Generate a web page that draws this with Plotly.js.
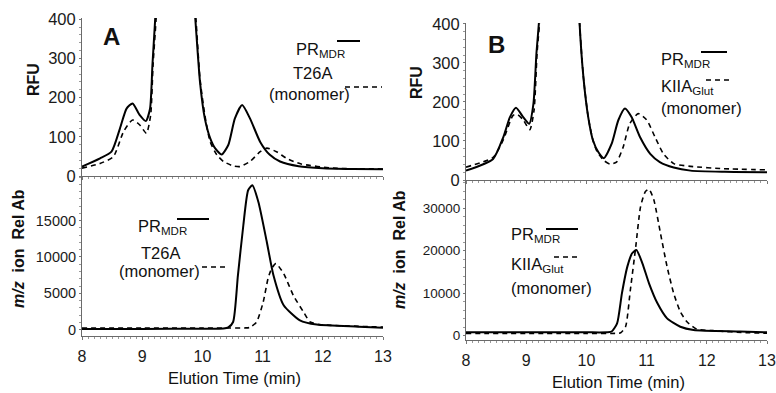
<!DOCTYPE html>
<html>
<head>
<meta charset="utf-8">
<script src="https://cdn.plot.ly/plotly-3.0.1.min.js"></script>
<style>html,body{margin:0;padding:0;background:#fff;}#chart{width:776px;height:393px;}</style>
</head>
<body>
<div id="chart"></div>
<script>
// ---- Panel A, fluorescence (RFU) ----
const tA_rfu_pr = [8.0, 8.3, 8.49, 8.63, 8.74, 8.84, 8.96, 9.06, 9.13, 9.17, 9.21, 9.26, 9.4, 9.55, 9.7, 9.82, 9.88, 9.96, 10.04, 10.13, 10.21, 10.32, 10.43, 10.54, 10.66, 10.79, 10.96, 11.12, 11.29, 11.6, 12.0, 12.5, 13.0];
const yA_rfu_pr = [24, 45, 62, 121, 172, 185, 155, 140, 172, 283, 385, 520, 900, 1200, 900, 520, 405, 240, 147, 96, 71, 55, 79, 147, 181, 147, 87, 54, 37, 25, 20, 18, 17];
const tA_rfu_mut = [8.0, 8.3, 8.52, 8.69, 8.84, 8.96, 9.07, 9.14, 9.18, 9.23, 9.28, 9.4, 9.55, 9.7, 9.82, 9.89, 9.96, 10.04, 10.13, 10.24, 10.35, 10.51, 10.62, 10.79, 10.96, 11.07, 11.23, 11.4, 11.63, 12.17, 13.0];
const yA_rfu_mut = [20, 32, 49, 113, 143, 130, 109, 155, 283, 400, 560, 900, 1200, 900, 520, 405, 248, 156, 87, 54, 37, 26, 24, 37, 62, 71, 62, 45, 31, 20, 18];

// ---- Panel A, ion abundance ----
const tA_ion_pr = [8.0, 9.0, 10.0, 10.35, 10.43, 10.51, 10.59, 10.68, 10.76, 10.83, 10.93, 11.07, 11.18, 11.35, 11.62, 11.9, 12.6, 13.0];
const yA_ion_pr = [100, 100, 120, 150, 300, 1050, 7480, 14370, 19190, 19870, 17580, 12070, 7480, 3350, 1280, 690, 400, 250];
const tA_ion_mut = [8.0, 9.0, 10.0, 10.7, 10.79, 10.9, 11.01, 11.09, 11.15, 11.22, 11.35, 11.51, 11.68, 11.79, 11.95, 12.6, 13.0];
const yA_ion_mut = [220, 220, 220, 230, 300, 1050, 3800, 7020, 8400, 9090, 7710, 4720, 2420, 1050, 690, 450, 350];

// ---- Panel B, fluorescence (RFU) ----
const tB_rfu_pr = [8.0, 8.45, 8.62, 8.73, 8.83, 8.95, 9.05, 9.12, 9.17, 9.22, 9.3, 9.45, 9.6, 9.75, 9.85, 9.88, 9.95, 10.03, 10.11, 10.2, 10.29, 10.42, 10.53, 10.64, 10.75, 10.89, 11.06, 11.22, 11.45, 11.73, 12.3, 13.0];
const yB_rfu_pr = [24, 54, 110, 161, 185, 161, 144, 195, 324, 420, 650, 1100, 1300, 900, 560, 420, 264, 161, 101, 71, 56, 93, 153, 183, 161, 110, 67, 46, 32, 24, 21, 20];
const tB_rfu_mut = [8.0, 8.45, 8.62, 8.78, 8.85, 8.95, 9.06, 9.13, 9.18, 9.23, 9.3, 9.45, 9.6, 9.75, 9.85, 9.88, 9.95, 10.03, 10.11, 10.18, 10.29, 10.39, 10.5, 10.61, 10.72, 10.86, 11.0, 11.14, 11.28, 11.45, 11.73, 12.28, 13.0];
const yB_rfu_mut = [33, 58, 103, 165, 168, 154, 129, 178, 324, 420, 650, 1100, 1300, 900, 560, 420, 264, 161, 101, 72, 50, 41, 46, 84, 144, 170, 154, 110, 67, 42, 35, 29, 26];

// ---- Panel B, ion abundance ----
const tB_ion_pr = [8.0, 9.0, 10.0, 10.35, 10.42, 10.51, 10.59, 10.68, 10.76, 10.83, 10.93, 11.04, 11.18, 11.34, 11.56, 11.78, 12.55, 13.0];
const yB_ion_pr = [800, 800, 800, 820, 1000, 2900, 9970, 16240, 19380, 20160, 17030, 12320, 7620, 4090, 2120, 1340, 1000, 800];
const tB_ion_mut = [8.0, 10.0, 10.5, 10.57, 10.65, 10.73, 10.82, 10.9, 10.98, 11.04, 11.12, 11.23, 11.34, 11.45, 11.56, 11.67, 11.83, 12.1, 12.7, 13.0];
const yB_ion_mut = [560, 560, 560, 700, 2120, 10750, 20940, 30350, 33880, 34450, 31930, 24090, 16240, 9970, 5650, 3300, 1580, 1200, 700, 600];

// tick labels
const xTicks = [8, 9, 10, 11, 12, 13];
const rfuTicks = [0, 100, 200, 300, 400];
const ionTicksA = [0, 5000, 10000, 15000];
const ionTicksB = [0, 10000, 20000, 30000];

const FONT = 'Arial, "Liberation Sans", sans-serif';
const W = 776, H = 393;
const px = v => v / W, py = v => 1 - v / H;

function solid(x, y, xa, ya) {
  return {x: x, y: y, xaxis: xa, yaxis: ya, mode: 'lines', type: 'scatter',
    line: {color: '#000', width: 2, shape: 'spline', smoothing: 0.6}, hoverinfo: 'skip', showlegend: false};
}
function dashed(x, y, xa, ya) {
  return {x: x, y: y, xaxis: xa, yaxis: ya, mode: 'lines', type: 'scatter',
    line: {color: '#000', width: 1.6, dash: '5px,4px', shape: 'spline', smoothing: 0.6}, hoverinfo: 'skip', showlegend: false};
}

const data = [
  dashed(tA_rfu_mut, yA_rfu_mut, 'x', 'y'),
  solid(tA_rfu_pr, yA_rfu_pr, 'x', 'y'),
  dashed(tA_ion_mut, yA_ion_mut, 'x2', 'y2'),
  solid(tA_ion_pr, yA_ion_pr, 'x2', 'y2'),
  dashed(tB_rfu_mut, yB_rfu_mut, 'x3', 'y3'),
  solid(tB_rfu_pr, yB_rfu_pr, 'x3', 'y3'),
  dashed(tB_ion_mut, yB_ion_mut, 'x4', 'y4'),
  solid(tB_ion_pr, yB_ion_pr, 'x4', 'y4')
];

function tf(size) { return {family: FONT, size: size, color: '#1a1a1a'}; }
function xAxis(domain, anchor, labels) {
  return {domain: domain, anchor: anchor, range: [8, 13], tickvals: xTicks, showticklabels: labels,
    showgrid: false, zeroline: false, showline: true, linecolor: '#6a6a6a', linewidth: 1,
    ticks: 'outside', ticklen: 3, tickcolor: '#777', tickfont: tf(16), ticklabelstandoff: 3,
    minor: {dtick: 0.1, ticks: 'outside', ticklen: 2, tickcolor: '#999'}};
}
function yAxis(domain, anchor, range, vals, minorStep, fsize) {
  return {domain: domain, anchor: anchor, range: range, tickvals: vals, tickformat: 'd',
    showgrid: false, zeroline: false, showline: true, linecolor: '#6a6a6a', linewidth: 1,
    ticks: 'outside', ticklen: 2, tickcolor: '#777', tickfont: tf(fsize), ticklabelstandoff: 0,
    minor: {dtick: minorStep, ticks: 'outside', ticklen: 2, tickcolor: '#999'}};
}

const xdomL = [px(82), px(383)], xdomR = [px(466), px(767)];

const layout = {
  width: W, height: H, margin: {l: 0, r: 0, t: 0, b: 0},
  paper_bgcolor: '#fff', plot_bgcolor: 'rgba(0,0,0,0)',
  font: {family: FONT, color: '#111'},
  showlegend: false,
  xaxis: xAxis(xdomL, 'y', false),
  yaxis: yAxis([py(176), py(18)], 'x', [0, 403], rfuTicks, 20, 16.5),
  xaxis2: xAxis(xdomL, 'y2', true),
  yaxis2: yAxis([py(336), py(176)], 'x2', [-880, 21150], ionTicksA, 1000, 14.5),
  xaxis3: xAxis(xdomR, 'y3', false),
  yaxis3: yAxis([py(180), py(23)], 'x3', [0, 402], rfuTicks, 20, 16.5),
  xaxis4: xAxis(xdomR, 'y4', true),
  yaxis4: yAxis([py(340), py(180)], 'x4', [-1000, 36600], ionTicksB, 2000, 13.5),
  shapes: [],
  annotations: []
};

function txt(text, x, y, size, opts) {
  return Object.assign({text: text, xref: 'paper', yref: 'paper', x: px(x), y: py(y), xanchor: 'left', yanchor: 'middle',
    showarrow: false, font: {family: FONT, size: size, color: '#111'}}, opts || {});
}
function seg(x0, x1, y, dash) {
  return {type: 'line', xref: 'paper', yref: 'paper', x0: px(x0), x1: px(x1), y0: py(y), y1: py(y),
    line: {color: '#000', width: dash ? 1.5 : 2, dash: dash ? '5px,4px' : 'solid'}};
}

const A = layout.annotations, S = layout.shapes;
const LS = 16.5;
// panel letters
A.push(txt('<b>A</b>', 101, 36, 24));
A.push(txt('<b>B</b>', 486, 45, 24));
// y-axis titles
A.push(txt('<b>RFU</b>', 33, 80, 16, {xanchor: 'center', textangle: -90}));
A.push(txt('<b>RFU</b>', 417, 83, 16, {xanchor: 'center', textangle: -90}));
A.push(txt('<b><i>m/z</i>\u00a0\u00a0ion\u00a0\u00a0Rel Ab</b>', 19, 249, 16, {xanchor: 'center', textangle: -90}));
A.push(txt('<b><i>m/z</i>\u00a0\u00a0ion\u00a0\u00a0Rel Ab</b>', 400, 249, 16, {xanchor: 'center', textangle: -90}));
// x-axis titles
A.push(txt('Elution Time (min)', 235, 378, 16.5, {xanchor: 'center'}));
A.push(txt('Elution Time (min)', 618, 382, 16.5, {xanchor: 'center'}));

// legends, panel A top
A.push(txt('PR<sub>MDR</sub>', 294, 50, LS));
S.push(seg(337, 360, 41, false));
A.push(txt('T26A', 291, 73, LS));
A.push(txt('(monomer)', 267, 94, LS));
S.push(seg(345, 382, 87, true));
// panel A bottom
A.push(txt('PR<sub>MDR</sub>', 136, 227, LS));
S.push(seg(177, 209, 219, false));
A.push(txt('T26A', 139, 253, LS));
A.push(txt('(monomer)', 117, 271, LS));
S.push(seg(202, 228, 267, true));
// panel B top
A.push(txt('PR<sub>MDR</sub>', 659, 60, LS));
S.push(seg(701, 727, 52, false));
A.push(txt('KIIA<sub>Glut</sub>', 659, 87, LS));
S.push(seg(706, 729, 80, true));
A.push(txt('(monomer)', 659, 108, LS));
// panel B bottom
A.push(txt('PR<sub>MDR</sub>', 509, 235, LS));
S.push(seg(546, 578, 229, false));
A.push(txt('KIIA<sub>Glut</sub>', 509, 265, LS));
S.push(seg(554, 580, 257, true));
A.push(txt('(monomer)', 509, 288, LS));

Plotly.newPlot('chart', data, layout, {staticPlot: true, displayModeBar: false});
</script>
</body>
</html>
